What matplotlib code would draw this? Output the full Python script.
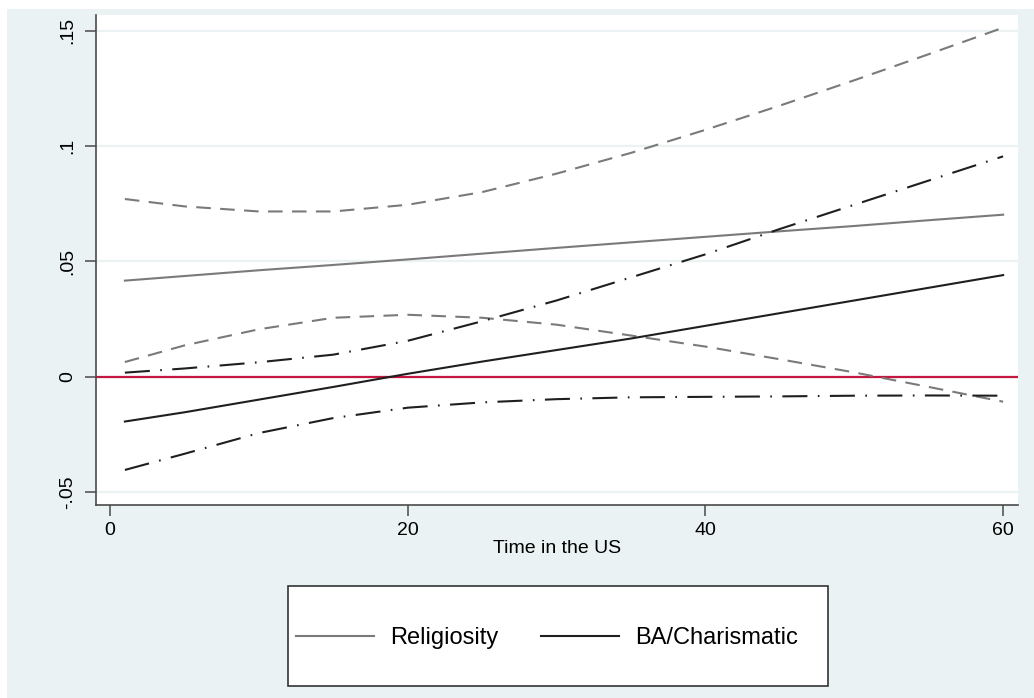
import matplotlib
matplotlib.use("Agg")
import matplotlib.pyplot as plt
from matplotlib.patches import Rectangle

# Years spent in the US
years = [1, 5, 10, 15, 20, 25, 30, 35, 40, 45, 50, 55, 60]

# Religiosity: marginal effect with 95% CI bounds
relig = [0.0416, 0.0436, 0.0461, 0.0484, 0.0508, 0.0533, 0.0558, 0.0582, 0.0606, 0.0630, 0.0653, 0.0678, 0.0702]
relig_hi = [0.0770, 0.0738, 0.0716, 0.0716, 0.0745, 0.0800, 0.0880, 0.0970, 0.1070, 0.1175, 0.1285, 0.1398, 0.1513]
relig_lo = [0.0063, 0.0135, 0.0205, 0.0255, 0.0268, 0.0255, 0.0225, 0.0178, 0.0130, 0.0075, 0.0018, -0.0045, -0.0109]

# BA/Charismatic: marginal effect with 95% CI bounds
bacharis = [-0.0195, -0.0155, -0.0100, -0.0045, 0.0012, 0.0065, 0.0115, 0.0165, 0.0220, 0.0275, 0.0330, 0.0385, 0.0440]
bacharis_hi = [0.0017, 0.0035, 0.0062, 0.0095, 0.0155, 0.0240, 0.0330, 0.0430, 0.0530, 0.0640, 0.0745, 0.0850, 0.0955]
bacharis_lo = [-0.0405, -0.0335, -0.0245, -0.0180, -0.0135, -0.0112, -0.0098, -0.0090, -0.0088, -0.0086, -0.0083, -0.0082, -0.0083]

xticks = [0, 20, 40, 60]
yticks = [-0.05, 0, 0.05, 0.1, 0.15]
ytick_labels = ["-.05", "0", ".05", ".1", ".15"]

plt.rcParams["font.family"] = ["Liberation Sans", "DejaVu Sans"]

W, H = 1034, 698
fig = plt.figure(figsize=(W / 100, H / 100), dpi=100, facecolor="white")

bg = "#EAF2F3"
fig.add_artist(Rectangle((7 / W, 0), 1 - 7 / W, 1 - 9 / H, transform=fig.transFigure,
                         facecolor=bg, edgecolor="none", zorder=-10))

ax = fig.add_axes([96 / W, 1 - 505 / H, (1018 - 96) / W, (505 - 15) / H])
ax.set_facecolor("white")

gray = "#7a7a7a"
black = "#1f1f1f"

ax.plot(years, relig, color=gray, lw=1.5, label="Religiosity", zorder=3)
ax.plot(years, relig_hi, color=gray, lw=1.5, dashes=(7, 4.5), zorder=3)
ax.plot(years, relig_lo, color=gray, lw=1.5, dashes=(7, 4.5), zorder=3)

ax.plot(years, bacharis, color=black, lw=1.5, label="BA/Charismatic", zorder=3)
ax.plot(years, bacharis_hi, color=black, lw=1.5, dashes=(12, 5, 0.8, 5), zorder=3)
ax.plot(years, bacharis_lo, color=black, lw=1.5, dashes=(12, 5, 0.8, 5), zorder=3)

ax.axhline(0, color="#C4163F", lw=1.6, zorder=2)

ax.set_xlim(-0.94, 61.0)
ax.set_ylim(-0.0557, 0.1568)

ax.set_xticks(xticks)
ax.set_xticklabels([str(t) for t in xticks])
ax.set_yticks(yticks)
ax.set_yticklabels(ytick_labels, rotation=90, va="center")

ax.grid(axis="y", color=bg, lw=1.6, zorder=0)
ax.set_axisbelow(True)

for side in ("top", "right"):
    ax.spines[side].set_visible(False)
for side in ("left", "bottom"):
    ax.spines[side].set_color("#4a4a4a")
    ax.spines[side].set_linewidth(1.2)

ax.tick_params(axis="both", direction="out", length=8, width=1.1, color="#4a4a4a",
               labelsize=14, labelcolor="black", pad=4)
ax.tick_params(axis="y", pad=6)

ax.set_xlabel("Time in the US", fontsize=14, labelpad=1)

# Legend frame and entries below the plot
fig.add_artist(Rectangle((288 / W, 1 - 686 / H), (828 - 288) / W, (686 - 586) / H,
                         transform=fig.transFigure, facecolor="white",
                         edgecolor="#333333", lw=1.2, zorder=1))
leg = fig.legend(loc="center", bbox_to_anchor=(547 / W, 1 - 638 / H), ncol=2,
                 frameon=False, fontsize=17, handlelength=3.3, handletextpad=0.7,
                 columnspacing=1.8)

fig.savefig("out.png", dpi=100, facecolor=fig.get_facecolor())
